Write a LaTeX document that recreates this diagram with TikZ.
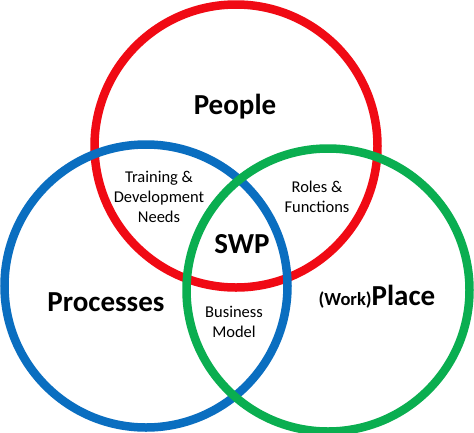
\documentclass[tikz,border=0pt]{standalone}
\usepackage{fontspec}
\setmainfont{Carlito}
\definecolor{vred}{HTML}{F00A14}
\definecolor{vblue}{HTML}{0A6EC0}
\definecolor{vgreen}{HTML}{0AAE50}
\tikzset{
  ring/.style={line width=8.5pt},
  big/.style={font=\fontsize{29}{31}\selectfont\bfseries, inner sep=0pt},
  small/.style={font=\fontsize{16.5}{20}\selectfont, align=center, inner sep=0pt}
}
\begin{document}
\begin{tikzpicture}[x=1pt,y=-1pt]
\useasboundingbox (0,0) rectangle (474,432);
\fill[white] (0,0) rectangle (474,432);
\draw[ring, vred] (236,146) circle[radius=141.5pt];
\draw[ring, vblue] (146,286) circle[radius=141.5pt];
\draw[ring, vgreen] (328,290) circle[radius=141.5pt];
\node[big] (people) at (235,107) {People};
\node[big] (swp) at (242,244) {SWP};
\node[big] (proc) at (106,302) {Processes};
\node[big] (place) at (377,297) {{\fontsize{18.5}{20}\selectfont (Work)}Place};
\node[small] (train) at (159,197) {Training \&\\Development\\Needs};
\node[small] (roles) at (317,197) {Roles \&\\Functions};
\node[small] (bus) at (234,322) {Business\\Model};
\end{tikzpicture}
\end{document}
